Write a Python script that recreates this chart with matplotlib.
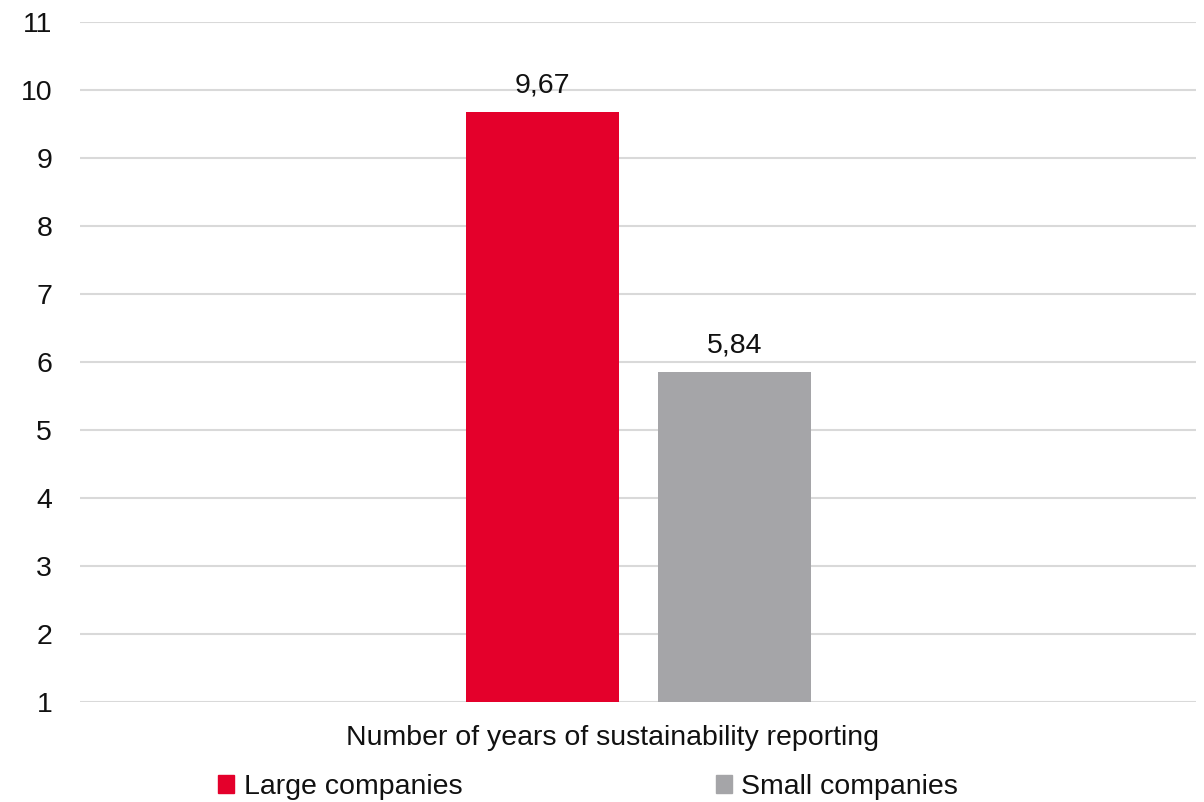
import matplotlib.pyplot as plt
from matplotlib.patches import Patch

category = 'Number of years of sustainability reporting'
series = ['Large companies', 'Small companies']
values = [9.67, 5.84]
colors = ['#E4002B', '#A5A5A8']
yticks = list(range(1, 12))

plt.rcParams['font.family'] = ['Liberation Sans', 'DejaVu Sans']
FS = 20.5
TXT = '#111111'

fig = plt.figure(figsize=(12.04, 8.02), dpi=100)
ax = fig.add_axes([80 / 1204, 1 - 701.5 / 802, 1116 / 1204, 680 / 802])

bar_w = 0.137
offsets = [-0.0856, 0.0865]
for off, v, c in zip(offsets, values, colors):
    ax.bar(off, v - 1, bottom=1, width=bar_w, color=c, zorder=3)
    ax.text(off, v + 0.2, f'{v:.2f}'.replace('.', ','), ha='center', va='bottom',
            fontsize=FS, color=TXT)

ax.set_xlim(-0.5, 0.5)
ax.set_ylim(1, 11)
ax.set_yticks(yticks)
ax.set_yticklabels([str(t) for t in yticks], fontsize=FS, color=TXT)
ax.tick_params(axis='y', length=0, pad=20)
ax.set_xticks([])
ax.grid(True, axis='y', color='#D9D9D9', lw=1.5, zorder=0)
for s in ax.spines.values():
    s.set_visible(False)

fig.text(612 / 1204, 1 - 738 / 802, category, ha='center', va='center',
         fontsize=FS, color=TXT)

handles = [Patch(color=c) for c in colors]
fig.legend(handles, series, loc='center', bbox_to_anchor=(588 / 1204, 1 - 787 / 802),
           ncol=2, frameon=False, fontsize=FS, handlelength=0.56, handleheight=0.56,
           handletextpad=0.32, columnspacing=8.9, labelcolor=TXT)

fig.savefig('out.png', dpi=100)
